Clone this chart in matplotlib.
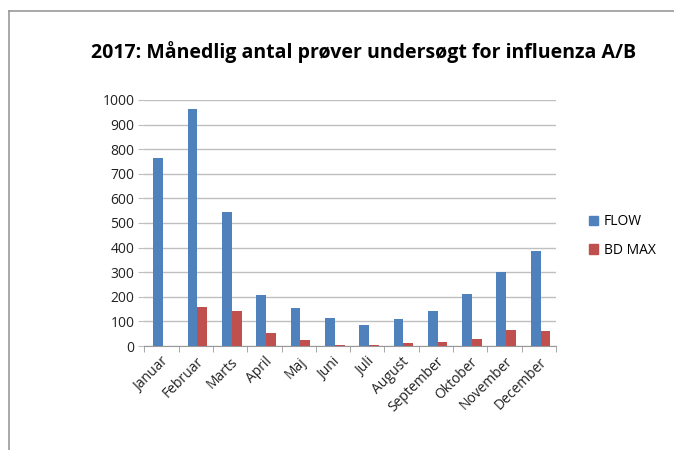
import numpy as np
import matplotlib.pyplot as plt
from matplotlib.patches import Patch
from matplotlib.lines import Line2D

months = ["Januar", "Februar", "Marts", "April", "Maj", "Juni", "Juli",
          "August", "September", "Oktober", "November", "December"]
flow = [762, 965, 544, 209, 156, 115, 84, 108, 144, 210, 302, 386]
bd_max = [0, 159, 143, 54, 24, 3, 3, 12, 15, 27, 64, 60]
yticks = [0, 100, 200, 300, 400, 500, 600, 700, 800, 900, 1000]

plt.rcParams['font.family'] = ['Open Sans', 'DejaVu Sans']

fig = plt.figure(figsize=(6.74, 4.5), dpi=100)
ax = fig.add_axes([0.214, 0.231, 0.611, 0.547])

x = np.arange(len(months))
w = 1 / 3.5
ax.bar(x - w / 2 + 0.05, flow, w, color="#4F81BD", label="FLOW", zorder=3)
ax.bar(x + w / 2 + 0.05, bd_max, w, color="#C0504D", label="BD MAX", zorder=3)

ax.set_xlim(-0.5, len(months) - 0.5)
ax.set_ylim(0, 1000)
ax.set_yticks(yticks)
ax.set_yticklabels([str(v) for v in yticks], fontsize=10, color="#222222")
ax.yaxis.grid(True, color="#BFBFBF", linewidth=1, zorder=0)
ax.set_xticks(x)
ax.set_xticklabels(months, rotation=45, ha="right", rotation_mode="anchor",
                   fontsize=10, color="#222222")
ax.tick_params(axis="x", length=0, pad=6)
ax.set_xticks(np.arange(-0.5, len(months)), minor=True)
ax.tick_params(axis="x", which="minor", length=4, color="#999999")
ax.tick_params(axis="y", length=4, color="#BFBFBF", pad=3)
for s in ["top", "right", "left"]:
    ax.spines[s].set_visible(False)
ax.spines["bottom"].set_color("#999999")

fig.text(0.54, 0.885, "2017: Månedlig antal prøver undersøgt for influenza A/B",
         ha="center", va="center", fontsize=14, fontweight="bold")

handles = [Patch(color="#4F81BD", label="FLOW"), Patch(color="#C0504D", label="BD MAX")]
fig.legend(handles=handles, loc="center left", bbox_to_anchor=(0.855, 0.475),
           frameon=False, fontsize=10, handlelength=0.7, handleheight=0.7,
           handletextpad=0.4, labelspacing=1.0)

# chart frame (left and top edges visible)
fig.add_artist(Line2D([0.0135, 0.0135], [0.0, 0.976], color="#999999", lw=1.2))
fig.add_artist(Line2D([0.0135, 1.0], [0.976, 0.976], color="#999999", lw=1.2))

plt.savefig("out.png", dpi=100)
